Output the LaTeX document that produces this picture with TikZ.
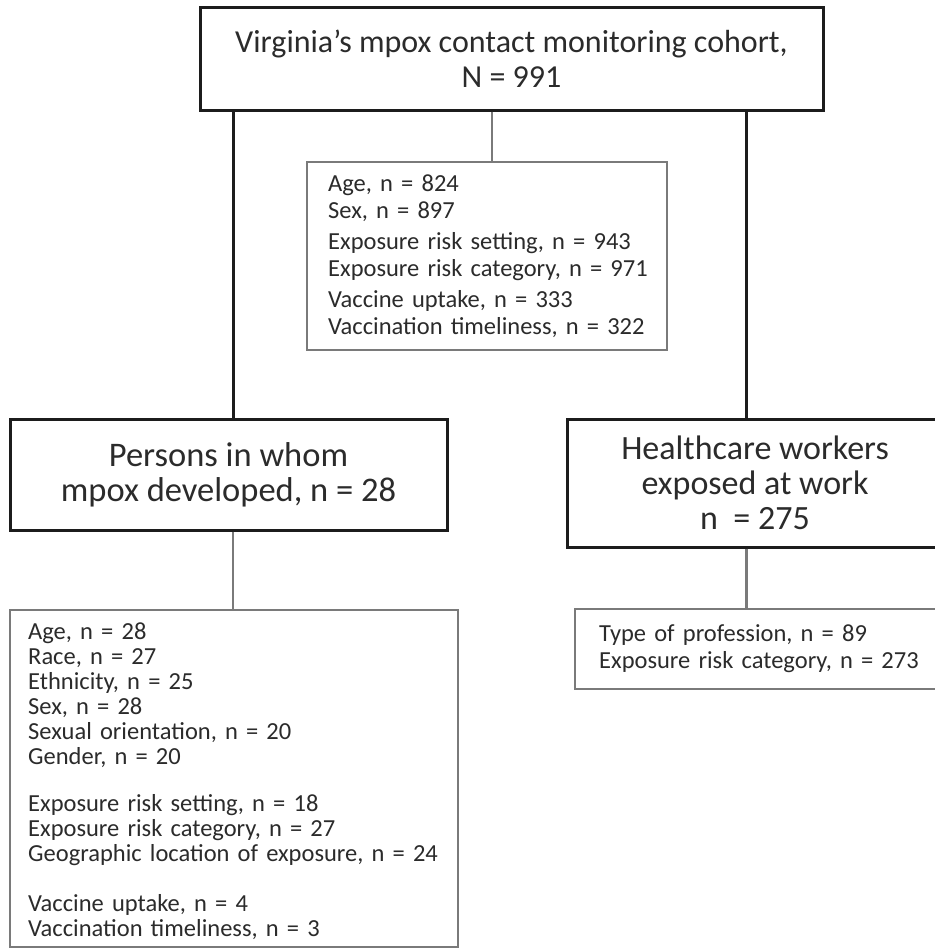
\documentclass[tikz,border=0pt]{standalone}
\usepackage{fontspec}
\setmainfont{Carlito}
\definecolor{txt}{HTML}{2B2B2B}
\definecolor{lineblk}{HTML}{1C1C1C}
\definecolor{linegray}{HTML}{7A7A7A}
\begin{document}
\begin{tikzpicture}[x=1pt,y=-1pt,
  mainbox/.style={draw=lineblk, line width=3pt, text=txt, align=center, inner sep=0pt},
  listbox/.style={draw=linegray, line width=2.5pt, inner sep=0pt},
  listtext/.style={text=txt, align=left, inner sep=0pt, anchor=north west, text width=420pt},
  blkline/.style={draw=lineblk, line width=3pt},
  grayline/.style={draw=linegray, line width=2.5pt}]
\fill[white] (0,0) rectangle (934,950);
\useasboundingbox (0,0) rectangle (934,950);

\coordinate (cl) at (233,0);
\coordinate (cm) at (492,0);
\coordinate (cr) at (746.5,0);

% main boxes
\node[mainbox, minimum width=623pt, minimum height=102pt,
  font=\fontsize{32}{35}\selectfont] (top) at (511.5,59)
  {Virginia’s mpox contact monitoring cohort,\\N = 991};

\node[mainbox, minimum width=437pt, minimum height=111pt,
  font=\fontsize{34.5}{35}\selectfont] (pers) at (228.5,474.5)
  {Persons in whom\\mpox developed, n = 28};

\node[mainbox, minimum width=376pt, minimum height=128pt,
  font=\fontsize{34}{35}\selectfont] (hcw) at (755,483)
  {Healthcare workers\\exposed at work\\n \ = 275};

% list boxes (frames)
\node[listbox, minimum width=360pt, minimum height=188pt] (mid) at (487,256) {};
\node[listbox, minimum width=448pt, minimum height=337pt] (plist) at (234,778.5) {};
\node[listbox, minimum width=370pt, minimum height=80pt] (hlist) at (760,649) {};

% list texts
\node[listtext, font=\fontsize{24.5}{26.5}\selectfont] (midtxt) at (328,175)
  {Age, n = 824\\Sex, n = 897\\[5pt]Exposure risk setting, n = 943\\Exposure risk category, n = 971\\[5pt]Vaccine uptake, n = 333\\Vaccination timeliness, n = 322};

\node[listtext, font=\fontsize{24.5}{25}\selectfont] (plisttxt) at (28,623)
  {Age, n = 28\\Race, n = 27\\Ethnicity, n = 25\\Sex, n = 28\\Sexual orientation, n = 20\\Gender, n = 20\\[22pt]Exposure risk setting, n = 18\\Exposure risk category, n = 27\\Geographic location of exposure, n = 24\\[25pt]Vaccine uptake, n = 4\\Vaccination timeliness, n = 3};

\node[listtext, font=\fontsize{24.5}{27}\selectfont] (hlisttxt) at (599,624.5)
  {Type of profession, n = 89\\Exposure risk category, n = 273};

% connectors
\draw[blkline] (top.south -| cl) -- (pers.north -| cl);
\draw[blkline] (top.south -| cr) -- (hcw.north -| cr);
\draw[grayline] (top.south -| cm) -- (mid.north -| cm);
\draw[grayline] (pers.south -| cl) -- (plist.north -| cl);
\draw[grayline] (hcw.south -| cr) -- (hlist.north -| cr);
\end{tikzpicture}
\end{document}
